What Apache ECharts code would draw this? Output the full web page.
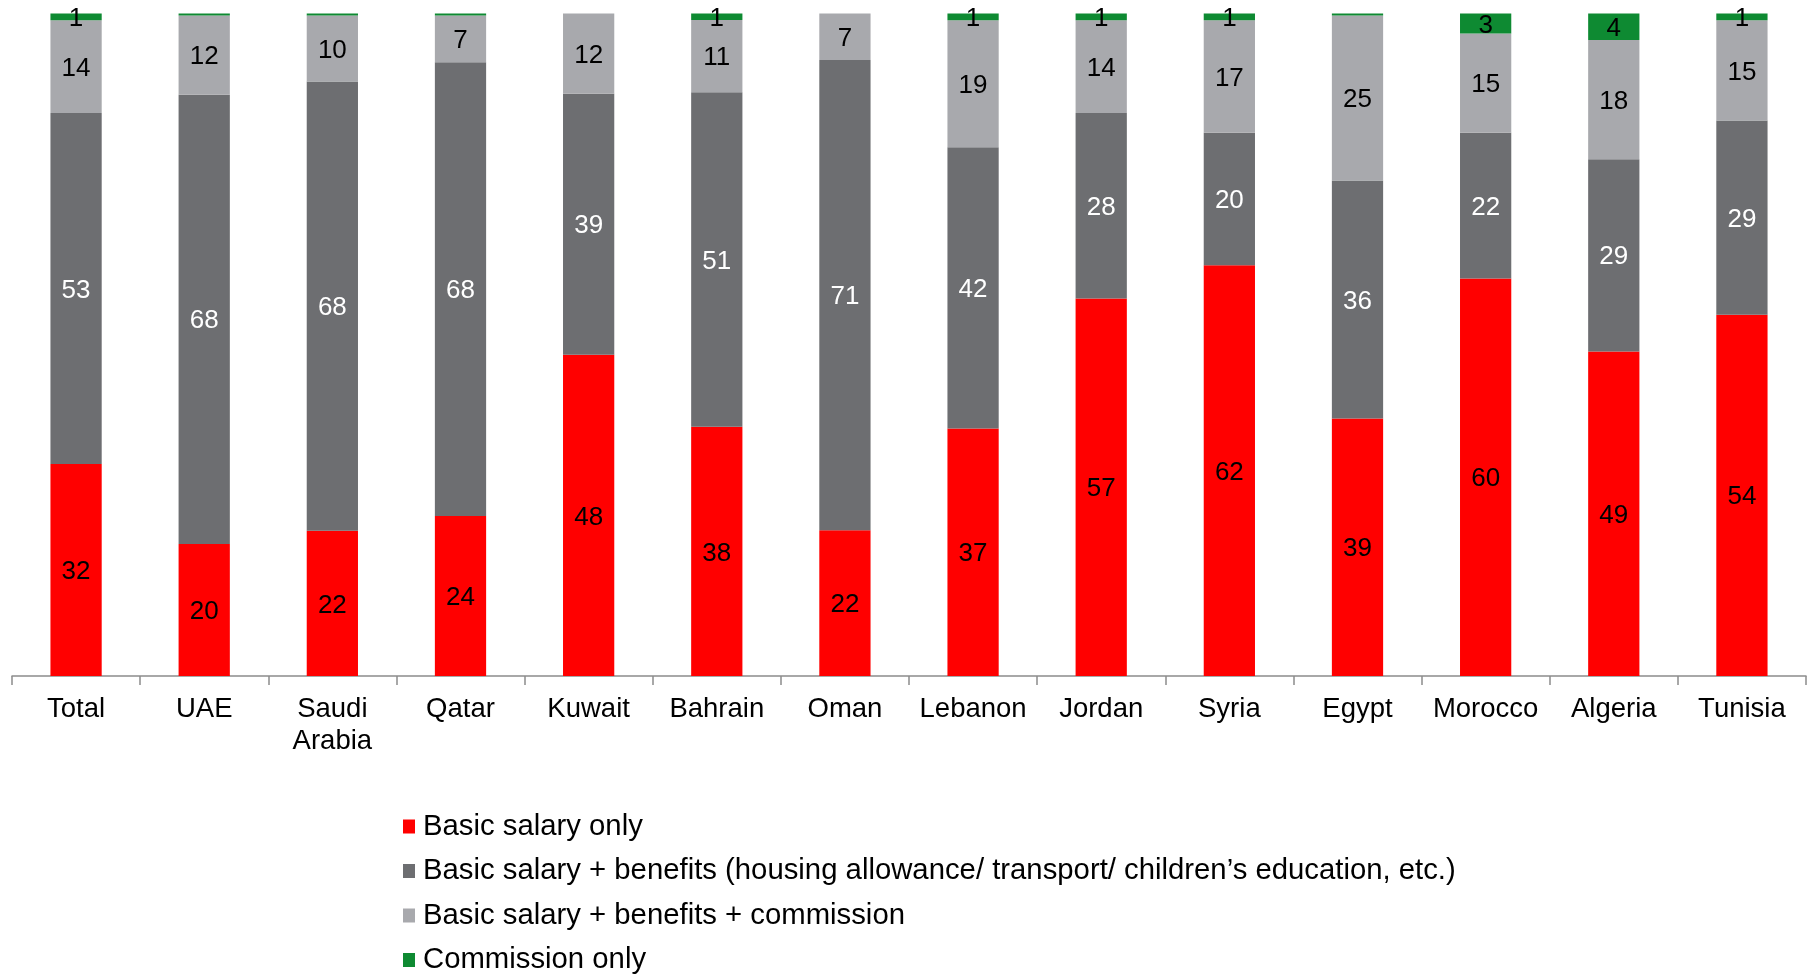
<!DOCTYPE html>
<html>
<head>
<meta charset="utf-8">
<script src="https://cdn.jsdelivr.net/npm/echarts@6/dist/echarts.min.js"></script>
<style>
html,body{margin:0;padding:0;background:#fff;}
#chart{width:1815px;height:975px;}
</style>
</head>
<body>
<div id="chart"></div>
<script>
const categories = ['Total','UAE','Saudi\nArabia','Qatar','Kuwait','Bahrain','Oman','Lebanon','Jordan','Syria','Egypt','Morocco','Algeria','Tunisia'];
const seriesNames = [
  'Basic salary only',
  'Basic salary + benefits (housing allowance/ transport/ children\u2019s education, etc.)',
  'Basic salary + benefits + commission',
  'Commission only'
];
const basicOnly      = [32, 20, 22, 24, 48, 38, 22, 37, 57, 62, 39, 60, 49, 54];
const basicBenefits  = [53, 68, 68, 68, 39, 51, 71, 42, 28, 20, 36, 22, 29, 29];
const basicBenComm   = [14, 12, 10,  7, 12, 11,  7, 19, 14, 17, 25, 15, 18, 15];
const commissionOnly = [ 1, 0.3, 0.3, 0.3, 0, 1, 0, 1, 1, 1, 0.3, 3, 4, 1];

const colors = ['#FF0000', '#6D6E71', '#A8A9AD', '#0E8A32'];
const labelColors = ['#000000', '#FFFFFF', '#000000', '#000000'];
const raw = [basicOnly, basicBenefits, basicBenComm, commissionOnly];

const totals = categories.map((c, i) => raw.reduce((s, arr) => s + arr[i], 0));

const series = raw.map((arr, k) => ({
  name: seriesNames[k],
  type: 'bar',
  stack: 'all',
  barWidth: '40%',
  itemStyle: { color: colors[k] },
  emphasis: { disabled: true },
  data: arr.map((v, i) => ({ value: v / totals[i] * 100, raw: v })),
  label: {
    show: true,
    position: 'inside',
    offset: [0, 2],
    color: labelColors[k],
    fontFamily: 'Liberation Sans, Arial, sans-serif',
    fontSize: 26,
    formatter: p => (p.data.raw >= 0.5 ? String(p.data.raw) : '')
  }
}));

const chart = echarts.init(document.getElementById('chart'), null, { renderer: 'canvas' });
chart.setOption({
  animation: false,
  backgroundColor: '#ffffff',
  grid: { left: 12, right: 9, top: 13.5, bottom: 299, containLabel: false, outerBoundsMode: 'none' },
  legend: {
    orient: 'vertical',
    left: 403,
    top: 811.5,
    height: 170,
    padding: 0,
    itemWidth: 12,
    itemHeight: 14,
    itemGap: 14.5,
    icon: 'rect',
    data: seriesNames,
    selectedMode: false,
    textStyle: {
      color: '#000',
      fontFamily: 'Liberation Sans, Arial, sans-serif',
      fontSize: 29.3,
      lineHeight: 30,
      padding: [0, 0, 0, 3]
    }
  },
  xAxis: {
    type: 'category',
    data: categories,
    axisLine: { show: true, lineStyle: { color: '#8C8C8C', width: 1.5 } },
    axisTick: { show: true, length: 9, lineStyle: { color: '#8C8C8C', width: 1.5 } },
    axisLabel: {
      interval: 0,
      color: '#000',
      fontFamily: 'Liberation Sans, Arial, sans-serif',
      fontSize: 27.5,
      lineHeight: 32,
      margin: 17
    },
    splitLine: { show: false }
  },
  yAxis: {
    type: 'value',
    min: 0,
    max: 100,
    show: false,
    splitLine: { show: false }
  },
  series: series
});
</script>
</body>
</html>
